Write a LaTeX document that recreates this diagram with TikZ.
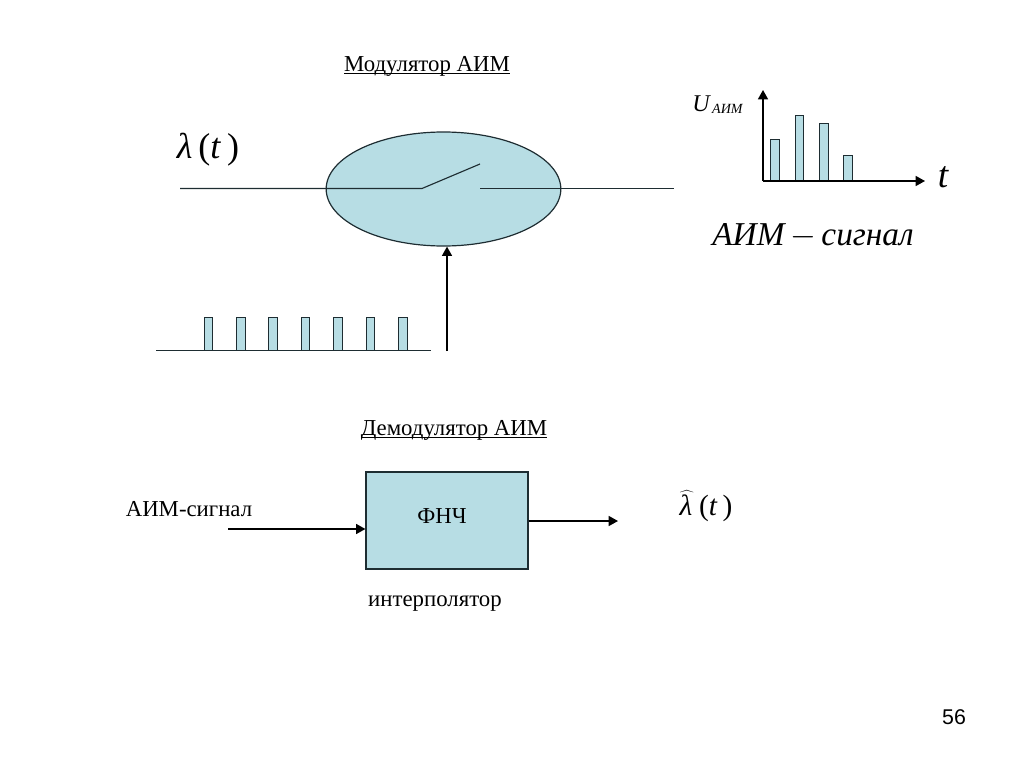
\documentclass[tikz,border=0pt]{standalone}
\usepackage{fontspec}
\setmainfont{Liberation Serif}
\newfontfamily\numfont{Liberation Sans}
\usepackage{tikz}
\usetikzlibrary{arrows.meta,positioning,calc,shapes.geometric}
\definecolor{paleblue}{RGB}{183,221,228}
\definecolor{inkline}{RGB}{30,45,50}
\tikzset{
  block/.style={draw=inkline, line width=0.9pt, fill=paleblue, inner sep=0pt},
  pulse/.style={draw=inkline, line width=0.7pt, fill=paleblue, inner sep=0pt, minimum width=6.6pt, minimum height=24.8pt, anchor=south},
  bar/.style={draw=inkline, line width=0.7pt, fill=paleblue, inner sep=0pt, minimum width=6.2pt, anchor=south},
  wire/.style={draw=inkline, line width=0.85pt},
  arrow/.style={-{Triangle[length=7pt,width=7.5pt]}, line width=1.1pt},
  title/.style={font=\fontsize{17.1}{20}\selectfont, inner sep=0pt}
}
\begin{document}
\begin{tikzpicture}[x=0.75pt, y=-0.75pt]
  \useasboundingbox (0,0) rectangle (1024,767);
  % modulator
  \node[title] (modtitle) at (427,73) {\underline{\smash{Модулятор АИМ}}};
  \node[block, ellipse, minimum width=176pt, minimum height=85.5pt] (mod) at (443.5,189) {};
  \node[inner sep=0pt, font=\fontsize{27}{30}\selectfont] (lam) at (208,150) {\textit{λ}\,(\textit{t}\,)};
  \coordinate (inL) at (180,188.5);
  \coordinate (swA) at (422,188.5);
  \coordinate (swB) at (480,164);
  \coordinate (swC) at (480,188.5);
  \coordinate (outR) at (674,188.5);
  \draw[wire] (inL) -- (swA) -- (swB);
  \draw[wire] (swC) -- (outR);
  % clock pulses
  \coordinate (clkL) at (156,350.5);
  \coordinate (clkR) at (431,350.5);
  \foreach \i/\px in {1/208.5,2/241,3/273,4/305.5,5/338,6/370.5,7/403}
    \node[pulse] (p\i) at (\px,351) {};
  \draw[wire] (clkL) -- (clkR);
  \coordinate (ctl) at (447,351);
  \draw[arrow] (ctl) -- (ctl |- mod.south);
  % output plot
  \coordinate (org) at (763,181);
  \coordinate (ytop) at (763,90);
  \coordinate (xend) at (925,181);
  \foreach \i/\px/\py in {1/775/140,2/799.5/116,3/824/124,4/848/156}
    \node[bar, minimum height={(181-\py)*0.75pt}] (b\i) at (\px,181) {};
  \draw[arrow] (org) -- (ytop);
  \draw[arrow] (org) -- (xend);
  \node[inner sep=0pt, font=\fontsize{18}{20}\selectfont\itshape] (ulab) at (701,104) {U};
  \node[inner sep=0pt, font=\fontsize{10.5}{12}\selectfont\itshape, right=1.5pt of ulab, yshift=-4pt] (ulabsub) {АИМ};
  \node[inner sep=0pt, font=\fontsize{28}{30}\selectfont\itshape] (tlab) at (943,177) {t};
  \node[inner sep=0pt, font=\fontsize{25}{30}\selectfont\itshape] (aimsig) at (813,236) {АИМ\,$-$\,сигнал};
  % demodulator
  \node[title] (demtitle) at (454,437) {\underline{\smash{Демодулятор АИМ}}};
  \node[block, minimum width=121.5pt, minimum height=72.75pt] (lpf) at (447,520.5) {};
  \node[title] (lpflab) at (442,516) {ФНЧ};
  \node[title] (interp) at (435,604) {интерполятор};
  \node[title] (aimin) at (189,509) {АИМ-сигнал};
  \coordinate (inD) at (228,529);
  \coordinate (outD) at (618,521);
  \draw[arrow] (inD) -- (inD -| lpf.west);
  \draw[arrow] (outD -| lpf.east) -- (outD);
  \node[inner sep=0pt, font=\fontsize{22}{26}\selectfont] (lamhat) at (706,506) {$\widehat{\hbox{\textit{λ}\kern1.5pt}}$\,(\textit{t}\,)};
  \node[inner sep=0pt, font=\fontsize{16}{18}\selectfont\numfont] (pagenum) at (954,717) {56};
\end{tikzpicture}
\end{document}
